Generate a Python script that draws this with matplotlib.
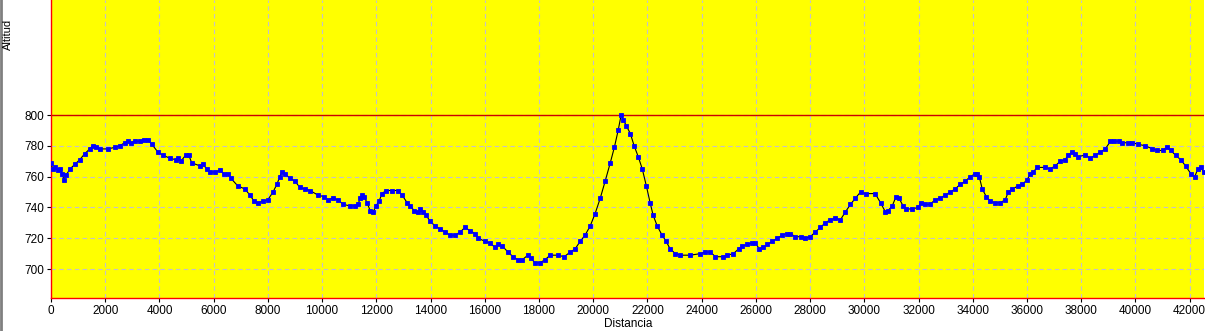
import numpy as np
import matplotlib
matplotlib.use('Agg')
from matplotlib import pyplot as plt
from matplotlib.lines import Line2D

# Distance (m) and altitude (m)
distancia = [0, 60, 150, 260, 330, 420, 470, 560, 700, 880, 1060, 1250, 1430, 1540,
             1650, 1800, 2100, 2350, 2530, 2720, 2830, 2950, 3090, 3270, 3420, 3570,
             3720, 3940, 4120, 4380, 4600, 4680, 4790, 4970, 5080, 5190, 5490, 5600,
             5750, 5860, 6040, 6230, 6370, 6520, 6630, 6890, 7150, 7340, 7490, 7640,
             7820, 8000, 8190, 8330, 8440, 8510, 8620, 8810, 9000, 9180, 9370, 9550,
             9850, 10070, 10220, 10400, 10590, 10770, 11030, 11210, 11330, 11400, 11480,
             11550, 11660, 11770, 11880, 11990, 12100, 12210, 12360, 12580, 12800, 12950,
             13140, 13250, 13390, 13540, 13620, 13730, 13840, 13980, 14170, 14350, 14540,
             14720, 14910, 15090, 15270, 15450, 15640, 15750, 16010, 16190, 16380, 16490,
             16640, 16860, 17040, 17230, 17380, 17590, 17710, 17850, 18030, 18220, 18410,
             18700, 18930, 19150, 19330, 19520, 19700, 19890, 20070, 20260, 20440, 20630,
             20780, 20920, 21030, 21110, 21220, 21370, 21510, 21660, 21810, 21960, 22100,
             22210, 22360, 22540, 22690, 22840, 23030, 23210, 23580, 23950, 24140, 24320,
             24510, 24770, 24950, 25170, 25360, 25500, 25690, 25870, 25980, 26130, 26280,
             26420, 26610, 26790, 26980, 27130, 27270, 27460, 27650, 27830, 28010, 28190,
             28380, 28560, 28750, 28930, 29120, 29300, 29490, 29670, 29860, 30060, 30400,
             30600, 30780, 30880, 31030, 31170, 31280, 31430, 31540, 31760, 31980, 32090,
             32240, 32430, 32610, 32800, 32980, 33170, 33350, 33540, 33720, 33910, 34100,
             34170, 34240, 34350, 34500, 34650, 34830, 35010, 35200, 35310, 35460, 35680,
             35830, 36010, 36120, 36230, 36380, 36670, 36860, 37040, 37230, 37410, 37520,
             37670, 37780, 37890, 38150, 38340, 38520, 38710, 38890, 39080, 39200, 39380,
             39520, 39740, 39890, 40110, 40370, 40630, 40810, 41000, 41150, 41300, 41480,
             41670, 41850, 42040, 42190, 42300, 42410, 42520]
altitud = [769, 765, 766, 764, 765, 762, 758, 761, 765, 768, 771, 775, 778, 780,
           779, 778, 778, 779, 780, 782, 783, 782, 783, 783, 784, 784,
           781, 776, 774, 772, 771, 772, 770, 774, 774, 769, 767, 768,
           765, 763, 763, 764, 762, 762, 759, 754, 752, 748, 744, 743,
           744, 745, 750, 755, 760, 763, 762, 759, 757, 753, 752, 751,
           748, 747, 745, 746, 745, 742, 741, 741, 742, 746, 748,
           747, 743, 738, 737, 741, 744, 749, 751, 751, 751, 748,
           743, 741, 738, 737, 739, 737, 735, 731, 728, 726, 724,
           722, 722, 724, 727, 725, 723, 720, 718, 717, 714, 716,
           715, 711, 708, 706, 706, 709, 707, 704, 704, 706, 709,
           709, 708, 711, 713, 718, 722, 728, 736, 746, 757, 769,
           779, 790, 800, 797, 793, 788, 780, 773, 765, 754, 743,
           735, 728, 722, 718, 713, 710, 709, 709, 710, 711, 711,
           708, 708, 709, 710, 713, 715, 716, 717, 717, 713, 714,
           716, 718, 720, 722, 723, 723, 721, 721, 720, 721, 724,
           727, 730, 732, 733, 732, 737, 742, 746, 750, 749, 749,
           743, 737, 738, 741, 747, 746, 741, 739, 739, 740, 743,
           742, 742, 745, 746, 748, 750, 752, 755, 757, 760, 762,
           762, 760, 752, 747, 744, 743, 743, 745, 750, 752, 754,
           755, 758, 762, 763, 766, 766, 765, 767, 770, 771, 774,
           776, 775, 773, 774, 772, 774, 776, 778, 783, 783, 783,
           782, 782, 782, 781, 780, 778, 777, 777, 779, 777, 774,
           771, 767, 762, 760, 765, 766, 763]

x_ticks = np.arange(0, 42001, 2000)
y_ticks = [700, 720, 740, 760, 780, 800]

fig = plt.figure(figsize=(12.05, 3.31), dpi=100)
ax = fig.add_axes([51 / 1205, 33 / 331, 1153 / 1205, 298 / 331])
ax.set_facecolor('#ffff00')

ax.plot(distancia, altitud, color='black', lw=0.8,
        marker='s', markersize=2.6, markerfacecolor='#0000ff',
        markeredgecolor='#0000ff', markeredgewidth=0.6, zorder=3)
ax.axhline(max(altitud), color='#cc0000', lw=1, zorder=2)

ax.set_xlim(0, 42530)
ax.set_ylim(681.2, 874.7)
ax.set_xticks(x_ticks)
ax.set_yticks(y_ticks)
ax.grid(True, color='#c4c0cc', ls=(0, (4, 3)), lw=0.8)
ax.tick_params(labelsize=8.5, length=3, width=0.8, color='black', pad=2)
for lab in ax.get_xticklabels() + ax.get_yticklabels():
    lab.set_family('Liberation Sans')

for side in ['top', 'right']:
    ax.spines[side].set_visible(False)
for side in ['left', 'bottom']:
    ax.spines[side].set_color('#ff0000')
    ax.spines[side].set_linewidth(1)

fig.text(628 / 1205, 1 - 324 / 331, 'Distancia', ha='center', va='center',
         fontsize=8.5, family='Liberation Sans')
fig.text(8 / 1205, 1 - 34 / 331, 'Altitud', ha='center', va='center',
         rotation=90, fontsize=8, family='Liberation Sans')
fig.add_artist(Line2D([1 / 1205, 1 / 1205], [0, 1], color='#808080', lw=2))

fig.savefig('out.png', dpi=100)
